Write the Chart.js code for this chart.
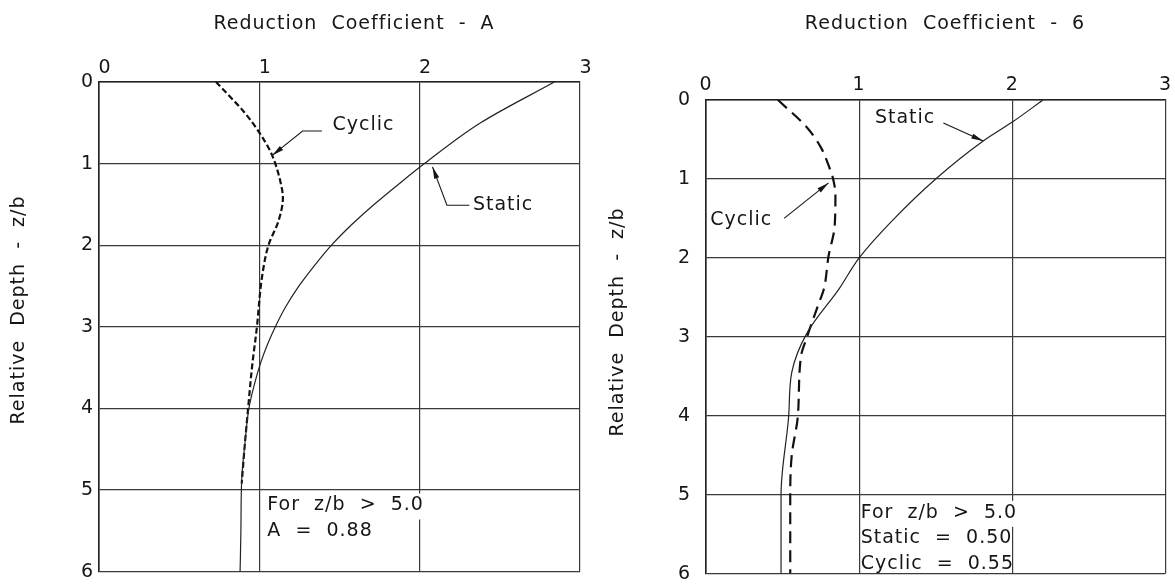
<!DOCTYPE html>
<html lang="en">
<head>
  <meta charset="UTF-8" />
  <title>Reduction Coefficients - Relative Depth</title>
  <style>
    body { margin: 0; background: #fff; width: 1175px; height: 588px; overflow: hidden; position: relative; }
    canvas { position: absolute; top: 0; }
    #chartA { left: 0; }
    #chartB { left: 590px; }
  </style>
  <script src="https://cdn.jsdelivr.net/npm/chart.js"></script>
</head>
<body>
  <canvas id="chartA" width="600" height="588"></canvas>
  <canvas id="chartB" width="585" height="600"></canvas>

  <script>
    // ticks
    const coefTicks = [0, 1, 2, 3];
    const depthTicks = [0, 1, 2, 3, 4, 5, 6];

    // Reduction coefficient A (left)
    const cyclicADepth = [0, 0.38, 0.62, 0.89, 1.3, 1.42, 1.7, 2.0, 2.4, 3.0, 3.5, 4.0, 4.43, 4.92];
    const cyclicA      = [0.73, 0.91, 1.0, 1.078, 1.14, 1.147, 1.12, 1.057, 1.016, 0.985, 0.954, 0.93, 0.91, 0.89];
    const staticADepth = [0, 0.5, 1.0, 1.25, 1.51, 1.75, 2.0, 2.26, 2.52, 2.77, 3.0, 3.22, 3.46, 3.7, 4.0, 4.43, 4.88, 5.5, 6.0];
    const staticA      = [2.84, 2.38, 2.03, 1.87, 1.71, 1.575, 1.45, 1.34, 1.24, 1.16, 1.10, 1.05, 1.005, 0.97, 0.935, 0.91, 0.89, 0.885, 0.88];

    // Reduction coefficient B (right)
    const cyclicBDepth = [0, 0.34, 0.6, 0.88, 1.0, 1.2, 1.6, 1.98, 2.39, 2.61, 3.0, 3.25, 4.0, 4.5, 5.0, 6.0];
    const cyclicB      = [0.47, 0.655, 0.75, 0.81, 0.83, 0.845, 0.84, 0.80, 0.77, 0.73, 0.66, 0.62, 0.60, 0.56, 0.55, 0.55];
    const staticBDepth = [0, 0.28, 0.52, 1.0, 1.54, 2.0, 2.39, 2.95, 3.45, 4.0, 5.0, 6.0];
    const staticB      = [2.2, 2.0, 1.81, 1.5, 1.21, 1.0, 0.87, 0.66, 0.56, 0.54, 0.49, 0.49];

    const FONT = '19px "DejaVu Sans"';
    const INK = '#161616';
    const SPACING = '1px';

    const pts = (vals, depths) => vals.map((v, i) => ({ x: v, y: depths[i] }));

    function arrowLine(ctx, p) {
      ctx.beginPath();
      ctx.moveTo(p[0][0], p[0][1]);
      for (let i = 1; i < p.length; i++) ctx.lineTo(p[i][0], p[i][1]);
      ctx.stroke();
      const [x1, y1] = p[p.length - 2], [x2, y2] = p[p.length - 1];
      const a = Math.atan2(y2 - y1, x2 - x1), L = 12, W = 2.6;
      ctx.beginPath();
      ctx.moveTo(x2, y2);
      ctx.lineTo(x2 - L * Math.cos(a) + W * Math.sin(a), y2 - L * Math.sin(a) - W * Math.cos(a));
      ctx.lineTo(x2 - L * Math.cos(a) - W * Math.sin(a), y2 - L * Math.sin(a) + W * Math.cos(a));
      ctx.closePath();
      ctx.fill();
    }

    // draws axis titles, call-out labels and the note
    function overlay(cfg) {
      return {
        id: 'overlay',
        beforeDraw(chart) { chart.ctx.letterSpacing = SPACING; },
        afterDraw(chart) {
          const { ctx, scales: { x, y } } = chart;
          const px = v => x.getPixelForValue(v), py = d => y.getPixelForValue(d);
          ctx.save();
          ctx.letterSpacing = SPACING;
          ctx.font = FONT;
          ctx.fillStyle = INK;
          ctx.strokeStyle = INK;
          ctx.lineWidth = 1.1;
          ctx.textBaseline = 'middle';
          ctx.textAlign = 'center';
          ctx.fillText(cfg.title, cfg.titleX, 24);

          ctx.save();
          ctx.translate(cfg.yTitleX, cfg.yTitleY);
          ctx.rotate(-Math.PI / 2);
          ctx.fillText('Relative  Depth  -  z/b', 0, 0);
          ctx.restore();

          cfg.labels.forEach(l => {
            ctx.textAlign = 'center';
            ctx.fillText(l.text, px(l.at[0]), py(l.at[1]));
            arrowLine(ctx, l.leader.map(q => [px(q[0]), py(q[1])]));
          });

          ctx.textAlign = 'left';
          cfg.note.lines.forEach((t, i) => {
            const lx = px(cfg.note.at[0]), ly = py(cfg.note.at[1]) + i * cfg.note.step;
            if (i === 0) {
              // first line sits on a white patch that breaks the grid line
              const w = ctx.measureText(t).width;
              ctx.fillStyle = '#fff';
              ctx.fillRect(lx + 2, ly - 12, w, 26);
              ctx.fillStyle = INK;
            }
            ctx.fillText(t, lx, ly);
          });
          ctx.restore();
        }
      };
    }

    function makeChart(id, box, data, cfg) {
      const gridStyle = { color: '#3a3a3a', lineWidth: 1.2, drawTicks: false };
      const tickFont = { family: 'DejaVu Sans', size: 19 };
      return new Chart(document.getElementById(id), {
        type: 'scatter',
        data: { datasets: data },
        options: {
          responsive: false,
          animation: false,
          layout: { autoPadding: false, padding: { left: 0, top: 0, right: box.right, bottom: box.bottom } },
          plugins: { legend: { display: false }, tooltip: { enabled: false } },
          elements: { point: { radius: 0 } },
          scales: {
            x: {
              type: 'linear', position: 'top', min: 0, max: 3,
              afterBuildTicks: s => { s.ticks = coefTicks.map(v => ({ value: v })); },
              afterFit: s => { s.height = box.top; },
              grid: gridStyle,
              border: { color: '#222', width: 1.6 },
              ticks: { color: INK, font: tickFont, padding: box.xPad, labelOffset: box.xShift, maxRotation: 0 }
            },
            y: {
              type: 'linear', position: 'left', reverse: true, min: 0, max: 6,
              afterBuildTicks: s => { s.ticks = depthTicks.map(v => ({ value: v })); },
              afterFit: s => { s.width = box.left; },
              grid: gridStyle,
              border: { color: '#222', width: 1.6 },
              ticks: { color: INK, font: tickFont, padding: box.yPad }
            }
          }
        },
        plugins: [overlay(cfg)]
      });
    }

    const curve = { showLine: true, indexAxis: 'y', cubicInterpolationMode: 'monotone' };

    makeChart('chartA',
      { left: 99, top: 82, right: 20, bottom: 8, xPad: 2.5, xShift: 6, yPad: 5 },
      [
        { ...curve, data: pts(staticA, staticADepth), borderColor: '#222', borderWidth: 1.2 },
        { ...curve, data: pts(cyclicA, cyclicADepth), borderColor: '#111', borderWidth: 2.2, borderDash: [6, 3] }
      ],
      {
        title: 'Reduction  Coefficient  -  A', titleX: 354, yTitleX: 19, yTitleY: 310,
        labels: [
          { text: 'Cyclic', at: [1.65, 0.53], leader: [[1.39, 0.6], [1.27, 0.6], [1.08, 0.9]] },
          { text: 'Static', at: [2.52, 1.51], leader: [[2.31, 1.51], [2.17, 1.51], [2.08, 1.04]] }
        ],
        note: { lines: ['For  z/b  >  5.0', 'A  =  0.88'], at: [1.05, 5.19], step: 26 }
      });

    makeChart('chartB',
      { left: 116, top: 100, right: 9, bottom: 11, xPad: 3.5, xShift: 0, yPad: 15 },
      [
        { ...curve, data: pts(staticB, staticBDepth), borderColor: '#222', borderWidth: 1.2 },
        { ...curve, data: pts(cyclicB, cyclicBDepth), borderColor: '#111', borderWidth: 2.2, borderDash: [12, 7] }
      ],
      {
        title: 'Reduction  Coefficient  -  6', titleX: 355, yTitleX: 28, yTitleY: 322,
        labels: [
          { text: 'Static', at: [1.3, 0.23], leader: [[1.55, 0.29], [1.81, 0.52]] },
          { text: 'Cyclic', at: [0.23, 1.52], leader: [[0.51, 1.5], [0.8, 1.05]] }
        ],
        note: { lines: ['For  z/b  >  5.0', 'Static  =  0.50', 'Cyclic  =  0.55'], at: [1.01, 5.23], step: 25.5 }
      });
  </script>
</body>
</html>
